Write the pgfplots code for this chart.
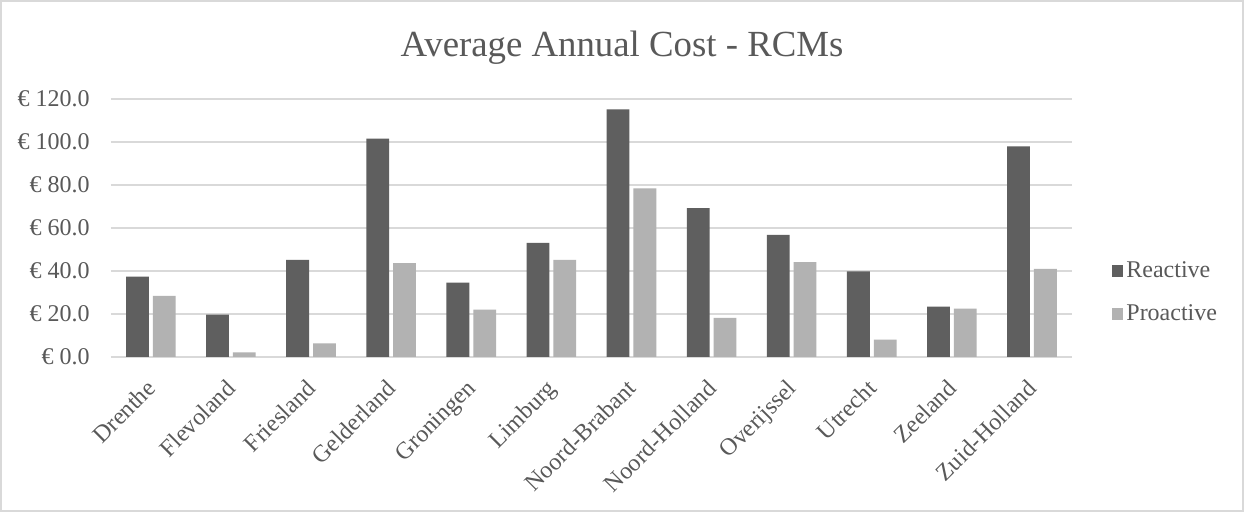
\documentclass[border=0pt]{standalone}
\usepackage{fontspec}
\setmainfont{Liberation Serif}
\usepackage{pgfplots}
\pgfplotsset{compat=1.18}

\definecolor{reactive}{HTML}{5F5F5F}
\definecolor{proactive}{HTML}{B2B2B2}
\definecolor{gridgray}{HTML}{D9D9D9}
\definecolor{txt}{HTML}{595959}

\begin{document}
\begin{tikzpicture}
% chart frame
\fill[white] (0pt,0pt) rectangle (622pt,256pt);
\draw[gridgray, line width=0.75pt] (0.4pt,0.4pt) rectangle (621.6pt,255.6pt);
% title
\node[text=txt, font=\fontsize{18.4}{22}\selectfont, anchor=base] at (311pt,227.6pt) {Average Annual Cost - RCMs};

\begin{axis}[
  at={(55.4pt,77.6pt)}, anchor=south west,
  scale only axis, width=480.6pt, height=128.8pt,
  ybar, bar width=11.4pt,
  xmin=-0.5, xmax=11.5, ymin=0, ymax=120,
  xtick={0,...,11},
  xticklabels={Drenthe,Flevoland,Friesland,Gelderland,Groningen,Limburg,Noord-Brabant,Noord-Holland,Overijssel,Utrecht,Zeeland,Zuid-Holland},
  ytick={0,20,...,120},
  yticklabels={€ 0.0,€ 20.0,€ 40.0,€ 60.0,€ 80.0,€ 100.0,€ 120.0},
  ymajorgrids, grid style={gridgray, line width=0.75pt},
  axis line style={draw=none},
  major tick length=0pt,
  tick label style={text=txt, font=\fontsize{12}{14}\selectfont},
  yticklabel style={anchor=east, xshift=-7pt},
  xticklabel style={xshift=-2.9pt, yshift=-10.5pt, rotate=45, anchor=north east, inner sep=0pt},
  legend style={at={(1.041,0.249)}, anchor=west, draw=none, fill=none, inner sep=0pt,
    font=\fontsize{12}{14}\selectfont, text=txt, row sep=12pt,
    nodes={inner xsep=1.5pt, inner ysep=0pt}},
  legend cell align=left,
  legend image code/.code={\fill[#1] (0pt,-2.9pt) rectangle (5.8pt,2.9pt);},
]
\addplot[fill=reactive, draw=none] coordinates {
  (0,37.3) (1,19.6) (2,45.2) (3,101.6) (4,34.6) (5,53.1)
  (6,115.3) (7,69.3) (8,56.8) (9,39.8) (10,23.4) (11,98.0)};
\addplot[fill=proactive, draw=none] coordinates {
  (0,28.4) (1,2.0) (2,6.2) (3,43.6) (4,22.0) (5,45.2)
  (6,78.5) (7,18.1) (8,44.1) (9,8.0) (10,22.4) (11,40.9)};
\legend{Reactive,Proactive}
\end{axis}
\pgfresetboundingbox
\useasboundingbox (0pt,0pt) rectangle (622pt,256pt);
\end{tikzpicture}
\end{document}
